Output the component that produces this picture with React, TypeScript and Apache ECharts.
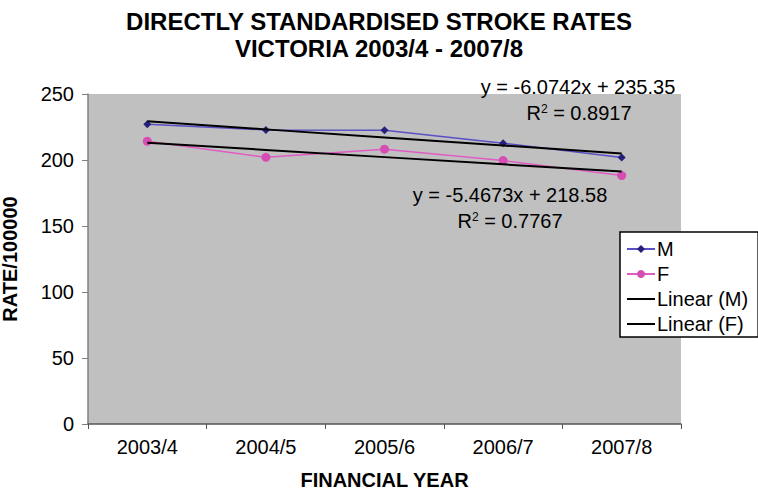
import React, { useEffect, useRef } from "react";
import * as echarts from "echarts";

const categories = ["2003/4", "2004/5", "2005/6", "2006/7", "2007/8"];
const maleRates = [227.1, 222.8, 222.5, 212.7, 201.9];
const femaleRates = [214.2, 202.0, 208.2, 199.6, 188.2];
// Trend-line coefficients as printed on the chart (x = 1..5)
const maleTrend = { slope: -6.0742, intercept: 235.35, r2: 0.8917 };
const femaleTrend = { slope: -5.4673, intercept: 218.58, r2: 0.7767 };
const yTicks = [0, 50, 100, 150, 200, 250];

const FONT = "'Liberation Sans', Arial, Helvetica, sans-serif";
const LINE_ICON = "path://M0,0 L28,0 L28,2 L0,2 Z";

export default function App() {
  const ref = useRef<HTMLDivElement>(null);
  useEffect(() => {
    if (!ref.current) return;
    const chart = echarts.init(ref.current, undefined, { renderer: "svg" });
    const trendValues = (t: { slope: number; intercept: number }) =>
      categories.map((_, i) => +(t.slope * (i + 1) + t.intercept).toFixed(3));
    const fmtEq = (t: { slope: number; intercept: number }) =>
      `y = ${t.slope}x + ${t.intercept}`;
    const r2Text = (x: number, y: number, v: number) => ({
      type: "text",
      x,
      y,
      style: {
        text: `{n|R}{s|2}{n| = ${v}}`,
        align: "center",
        verticalAlign: "middle",
        rich: {
          n: { fontSize: 20, fontFamily: FONT, color: "#000" },
          s: { fontSize: 12, fontFamily: FONT, color: "#000", verticalAlign: "top", padding: [0, 0, 9, 0] },
        },
      },
    });
    const eqText = (x: number, y: number, t: { slope: number; intercept: number }) => ({
      type: "text",
      x,
      y,
      style: {
        text: fmtEq(t),
        fontSize: 20,
        fontFamily: FONT,
        fill: "#000",
        align: "center",
        verticalAlign: "middle",
      },
    });
    chart.setOption({
      animation: false,
      backgroundColor: "#ffffff",
      textStyle: { fontFamily: FONT },
      title: {
        text: "DIRECTLY STANDARDISED STROKE RATES\nVICTORIA 2003/4 - 2007/8",
        left: "center",
        top: 3,
        textStyle: {
          fontFamily: FONT,
          fontWeight: "bold",
          fontSize: 24,
          lineHeight: 27,
          color: "#000",
        },
      },
      grid: {
        left: 88,
        right: 77,
        top: 94,
        bottom: 68,
        show: true,
        backgroundColor: "#C0C0C0",
        borderWidth: 0,
        outerBoundsMode: "none",
        containLabel: false,
      },
      legend: {
        orient: "vertical",
        left: 620,
        top: 232,
        backgroundColor: "#ffffff",
        borderColor: "#000",
        borderWidth: 1.5,
        borderRadius: 0,
        padding: [6, 10, 2, 6],
        itemGap: 3,
        itemWidth: 28,
        itemHeight: 10,
        textStyle: { fontSize: 20, lineHeight: 22, color: "#000", fontFamily: FONT, padding: [0, 0, 0, -3] },
        data: [
          { name: "M" },
          { name: "F" },
          { name: "Linear (M)", icon: LINE_ICON },
          { name: "Linear (F)", icon: LINE_ICON },
        ],
      },
      xAxis: {
        type: "category",
        data: categories,
        boundaryGap: true,
        name: "FINANCIAL YEAR",
        nameLocation: "middle",
        nameGap: 46,
        nameTextStyle: { fontWeight: "bold", fontSize: 20, color: "#000" },
        axisLine: { lineStyle: { color: "#555", width: 1.5 } },
        axisTick: { show: true, length: 5, lineStyle: { color: "#555" } },
        axisLabel: { fontSize: 20, color: "#000", margin: 13 },
        splitLine: { show: false },
      },
      yAxis: {
        type: "value",
        min: yTicks[0],
        max: yTicks[yTicks.length - 1],
        interval: 50,
        name: "RATE/100000",
        nameLocation: "middle",
        nameGap: 68,
        nameTextStyle: { fontWeight: "bold", fontSize: 20, color: "#000" },
        axisLine: { show: true, lineStyle: { color: "#808080", width: 1.5 } },
        axisTick: { show: true, length: 6, lineStyle: { color: "#808080" } },
        axisLabel: { fontSize: 20, color: "#000", margin: 14 },
        splitLine: { show: false },
      },
      graphic: [
        eqText(578, 87, maleTrend),
        r2Text(579, 113, maleTrend.r2),
        eqText(510, 195, femaleTrend),
        r2Text(510, 221, femaleTrend.r2),
      ],
      series: [
        {
          name: "M",
          type: "line",
          data: maleRates,
          symbol: "diamond",
          symbolSize: 8,
          itemStyle: { color: "#25217A" },
          lineStyle: { color: "#5A4FC4", width: 1.5 },
          z: 3,
        },
        {
          name: "F",
          type: "line",
          data: femaleRates,
          symbol: "circle",
          symbolSize: 9,
          itemStyle: { color: "#D64DB4" },
          lineStyle: { color: "#E05CC4", width: 1.5 },
          z: 3,
        },
        {
          name: "Linear (M)",
          type: "line",
          data: trendValues(maleTrend),
          symbol: "none",
          lineStyle: { color: "#000", width: 2 },
          itemStyle: { color: "#000" },
          z: 4,
        },
        {
          name: "Linear (F)",
          type: "line",
          data: trendValues(femaleTrend),
          symbol: "none",
          lineStyle: { color: "#000", width: 2 },
          itemStyle: { color: "#000" },
          z: 4,
        },
      ],
    });
    return () => chart.dispose();
  }, []);
  return <div ref={ref} style={{ width: 758, height: 492, position: "absolute", left: 0, top: 0 }} />;
}
